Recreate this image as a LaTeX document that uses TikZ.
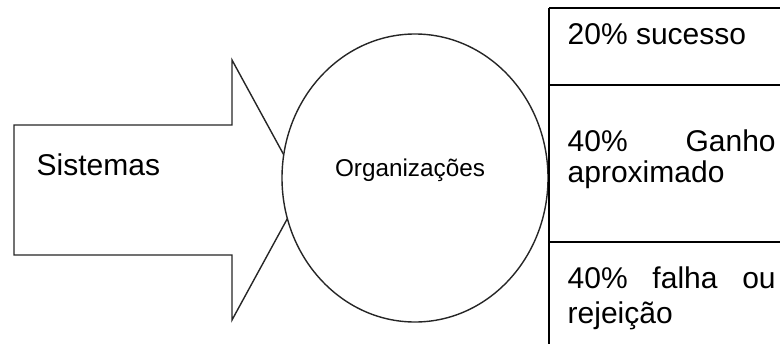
\documentclass[tikz,border=0pt]{standalone}
\usepackage{fontspec}
\setmainfont{Liberation Sans}
\usepackage{tikz}
\usetikzlibrary{shapes,positioning}

\begin{document}
\begin{tikzpicture}[x=0.5pt,y=-0.5pt,line width=0.7pt,
  txt/.style={inner sep=0pt, anchor=base west, font=\fontsize{15}{15.5}\selectfont}]
\tikzstyle{cell}=[text width=104pt, align=justify]
\clip (0,0) rectangle (780,343);
% seta
\draw[black!85, fill=white] (14,125) -- (232,125) -- (232,60) -- (303,190) -- (232,320) -- (232,255) -- (14,255) -- cycle;
\node[txt] (sis) at (36,175) {Sistemas};
% elipse
\node[ellipse, draw=black!85, fill=white, minimum width=133pt, minimum height=144pt, inner sep=0pt] (org) at (415,178) {};
\node[txt, anchor=base, font=\fontsize{12.15}{14}\selectfont] (orgtxt) at (410,176.7) {Organizações};
% tabela
\draw (549,350) -- (549,8);
\foreach \y in {8,85,242}{\draw (549,\y) -- (790,\y);}
\node[txt,cell] (suc) at (567,44) {20\% sucesso};
\node[txt,cell,font=\fontsize{15}{15.5}\selectfont] (gan) at (567,151) {40\% Ganho\linebreak aproximado};
\node[txt,cell,font=\fontsize{15}{17.5}\selectfont] (fal) at (567,288) {40\% falha ou\linebreak rejeição};
\end{tikzpicture}
\end{document}
